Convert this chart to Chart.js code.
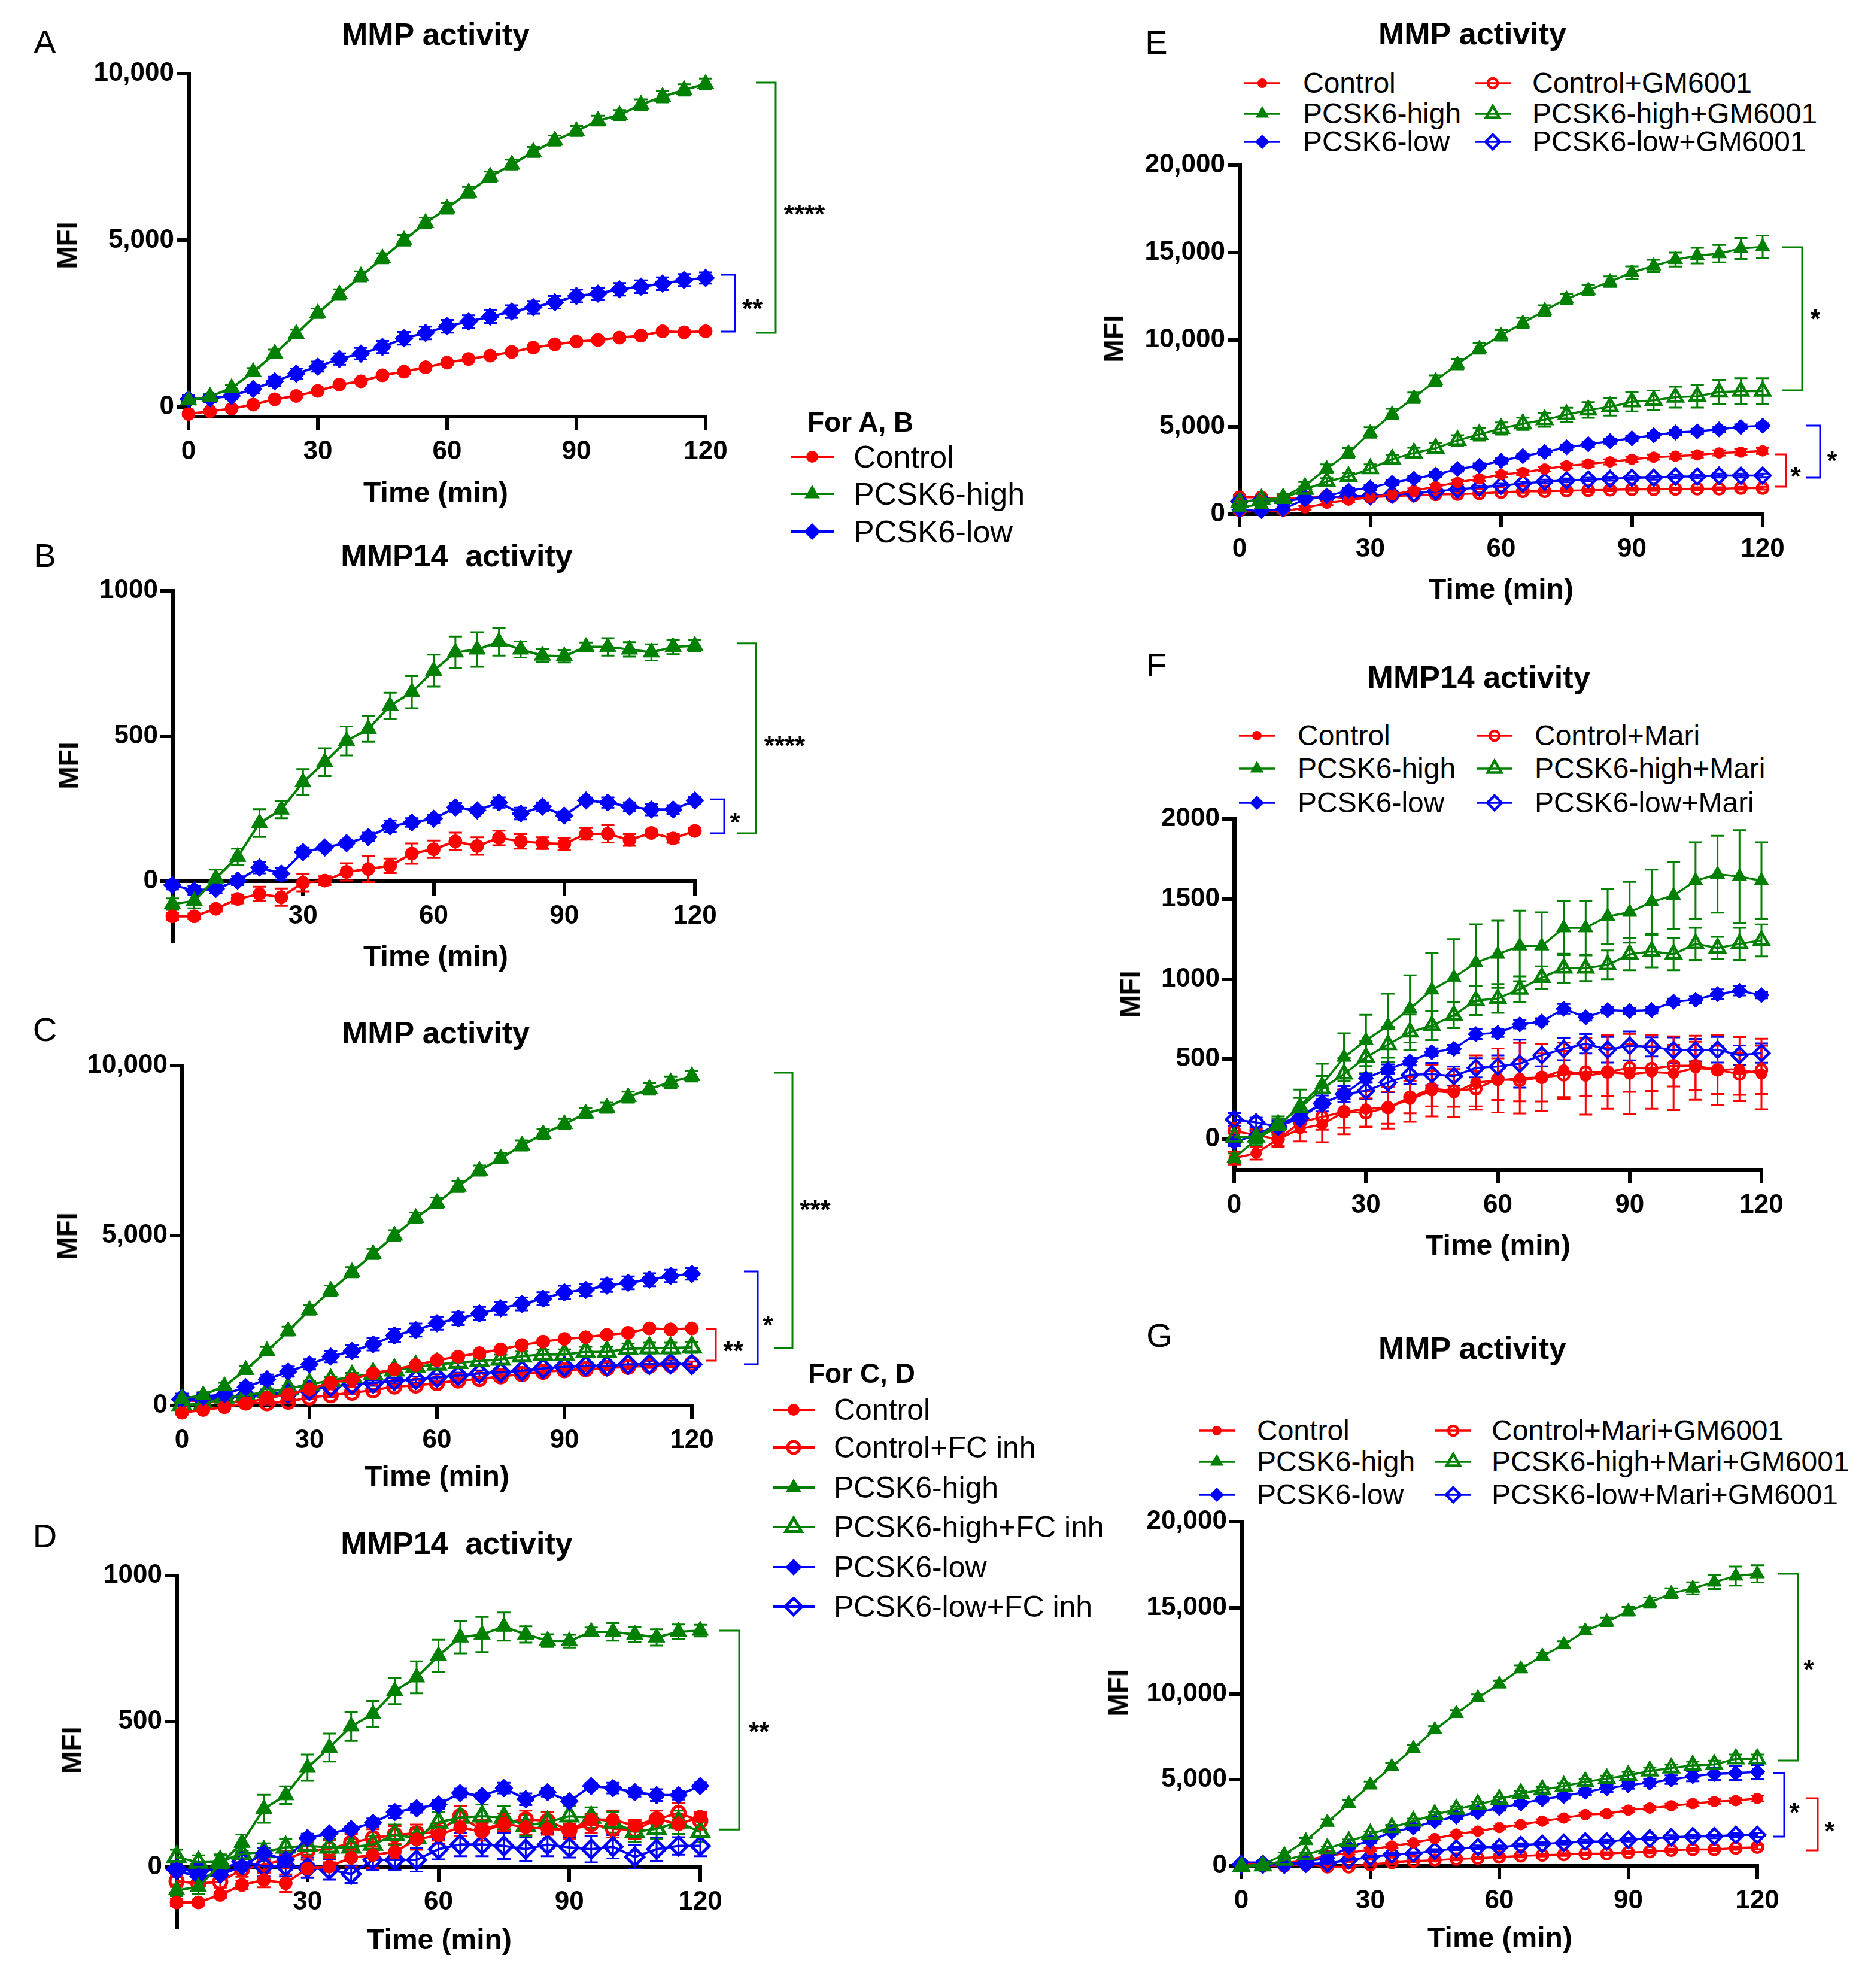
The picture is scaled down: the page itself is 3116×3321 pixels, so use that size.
<!DOCTYPE html>
<html>
<head>
<meta charset="utf-8">
<script src="https://cdn.jsdelivr.net/npm/chart.js@4.4.1/dist/chart.umd.min.js"></script>
<style>
html, body { margin: 0; padding: 0; background: #fff; }
#page { position: relative; width: 3116px; height: 3321px; overflow: hidden; font-family: 'Liberation Sans', Arial, sans-serif; color: #000; }
.txt { position: absolute; white-space: pre; line-height: 1; transform: translate(-50%, -50%); }
.letter { font-size: 56px; }
.title { font-size: 52px; font-weight: bold; }
.axis { font-size: 48px; font-weight: bold; }
.mfi { font-size: 46px; font-weight: bold; transform: translate(-50%, -50%) rotate(-90deg); }
.legtitle { position: absolute; font-size: 46px; font-weight: bold; line-height: 1; transform: translateY(-50%); white-space: nowrap; }
.leg { position: absolute; display: flex; align-items: center; white-space: nowrap; line-height: 1; transform: translateY(-50%); }
canvas { position: absolute; }
</style>
</head>
<body>
<div id="page"></div>
<script>
const RED = '#ff0000', GREEN = '#008000', BLUE = '#0000ff';

const minutes = [0, 5, 10, 15, 20, 25, 30, 35, 40, 45, 50, 55, 60, 65, 70, 75, 80, 85, 90, 95, 100, 105, 110, 115, 120];
const timeTicks = [0, 30, 60, 90, 120];
const timeTicksNoZero = [30, 60, 90, 120];
const ticksMmp = [0, 5000, 10000];
const ticksMmp14 = [0, 500, 1000];
const ticksBig = [0, 5000, 10000, 15000, 20000];
const ticksMari = [0, 500, 1000, 1500, 2000];

// MMP activity (A, C)
const mmpControl = [-210, -130, -50, 70, 230, 330, 480, 670, 770, 950, 1060, 1190, 1330, 1440, 1540, 1650, 1780, 1880, 1960, 2010, 2080, 2140, 2270, 2240, 2270];
const mmpControlSem = [50, 40, 40, 40, 40, 40, 50, 50, 50, 60, 60, 60, 60, 60, 60, 60, 60, 60, 60, 60, 60, 60, 60, 60, 60];
const mmpHigh = [200, 310, 570, 1050, 1600, 2190, 2810, 3380, 3920, 4460, 5000, 5520, 5960, 6440, 6910, 7270, 7650, 7990, 8280, 8590, 8760, 9070, 9310, 9510, 9690];
const mmpHighSem = [60, 80, 100, 120, 120, 130, 140, 150, 150, 150, 160, 160, 160, 160, 150, 150, 150, 150, 150, 150, 150, 160, 170, 170, 160];
const mmpLow = [230, 260, 330, 540, 770, 1000, 1210, 1440, 1600, 1800, 2060, 2220, 2420, 2560, 2710, 2860, 2990, 3140, 3330, 3400, 3530, 3610, 3700, 3810, 3870];
const mmpLowSem = [120, 110, 110, 130, 140, 150, 150, 170, 170, 180, 190, 190, 190, 190, 190, 190, 190, 190, 190, 180, 190, 190, 190, 180, 170];
const mmpControlFc = [150, 130, 120, 90, 70, 115, 240, 305, 380, 450, 560, 590, 660, 735, 780, 860, 925, 990, 1040, 1070, 1100, 1140, 1165, 1195, 1230];
const mmpControlFcSem = [40, 40, 40, 40, 40, 40, 50, 50, 50, 50, 50, 50, 50, 60, 60, 60, 60, 60, 60, 60, 60, 60, 60, 60, 60];
const mmpHighFc = [20, 50, 240, 305, 400, 500, 620, 735, 850, 925, 1040, 1140, 1210, 1260, 1310, 1355, 1450, 1500, 1500, 1575, 1575, 1670, 1690, 1690, 1710];
const mmpHighFcSem = [50, 50, 60, 80, 80, 90, 100, 100, 110, 110, 110, 120, 120, 120, 130, 140, 140, 140, 150, 150, 150, 150, 160, 160, 160];
const mmpLowFc = [180, 180, 240, 280, 335, 370, 450, 560, 620, 660, 735, 765, 830, 880, 945, 975, 1020, 1090, 1140, 1165, 1165, 1210, 1210, 1230, 1210];
const mmpLowFcSem = [60, 60, 60, 70, 70, 70, 80, 80, 80, 80, 80, 90, 90, 90, 90, 90, 90, 90, 90, 90, 90, 90, 90, 90, 90];

// MMP14 activity (B, D)
const mmp14Control = [-121, -121, -95, -61, -44, -55, -5, 2, 32, 42, 53, 95, 110, 137, 121, 149, 137, 131, 128, 163, 163, 142, 166, 147, 173];
const mmp14ControlSem = [12, 10, 10, 15, 25, 30, 30, 15, 30, 45, 25, 35, 30, 30, 30, 25, 25, 20, 20, 20, 30, 20, 10, 15, 10];
const mmp14High = [-79, -68, 10, 84, 200, 247, 341, 410, 483, 525, 604, 651, 725, 788, 798, 825, 798, 777, 775, 807, 807, 798, 788, 807, 811];
const mmp14HighSem = [20, 25, 30, 28, 48, 30, 45, 48, 50, 45, 45, 55, 55, 55, 60, 48, 28, 22, 22, 15, 30, 25, 28, 25, 20];
const mmp14Low = [-13, -32, -26, 2, 47, 26, 100, 116, 131, 152, 189, 202, 215, 254, 244, 271, 233, 257, 226, 278, 271, 257, 247, 247, 278];
const mmp14LowSem = [15, 15, 15, 15, 20, 20, 15, 10, 12, 15, 20, 15, 15, 15, 10, 18, 20, 15, 15, 10, 18, 15, 20, 15, 12];
const mmp14ControlFc = [-48, -56, -50, -8, 9, 25, 57, 62, 84, 100, 111, 116, 121, 175, 127, 154, 164, 159, 127, 148, 132, 127, 164, 186, 159];
const mmp14ControlFcSem = [20, 20, 20, 25, 25, 30, 30, 30, 30, 30, 30, 30, 30, 35, 35, 30, 30, 30, 30, 30, 30, 30, 30, 35, 30];
const mmp14HighFc = [35, 16, 19, 46, 52, 68, 73, 68, 68, 78, 111, 100, 154, 170, 175, 170, 143, 154, 175, 170, 154, 121, 132, 154, 121];
const mmp14HighFcSem = [25, 25, 25, 30, 30, 30, 30, 30, 30, 30, 35, 35, 35, 40, 40, 40, 35, 35, 35, 35, 35, 35, 35, 40, 35];
const mmp14LowFc = [-8, -13, -8, 19, 3, 3, -2, -8, -24, 25, 25, 25, 62, 78, 78, 73, 62, 78, 68, 62, 70, 35, 62, 73, 73];
const mmp14LowFcSem = [25, 25, 30, 30, 35, 35, 35, 35, 30, 35, 35, 40, 35, 40, 40, 45, 40, 40, 35, 45, 40, 40, 40, 30, 35];

// MMP activity with GM6001 (E)
const gmControl = [140, 180, 180, 360, 630, 810, 970, 1130, 1350, 1580, 1820, 2030, 2270, 2390, 2590, 2770, 2880, 3000, 3150, 3270, 3330, 3400, 3510, 3560, 3630];
const gmControlSem = [100, 100, 100, 110, 110, 120, 120, 120, 130, 130, 130, 130, 140, 140, 140, 140, 140, 150, 150, 150, 150, 150, 150, 160, 170];
const gmHigh = [400, 560, 970, 1640, 2610, 3510, 4680, 5740, 6670, 7660, 8600, 9500, 10250, 10950, 11670, 12340, 12840, 13330, 13850, 14230, 14590, 14820, 14930, 15230, 15320];
const gmHighSem = [150, 150, 180, 200, 250, 280, 300, 300, 300, 300, 300, 300, 300, 300, 300, 300, 300, 300, 350, 350, 400, 450, 500, 600, 650];
const gmLow = [250, 180, 290, 860, 1040, 1350, 1530, 1800, 2030, 2270, 2590, 2770, 3060, 3330, 3560, 3830, 4010, 4190, 4350, 4530, 4680, 4750, 4860, 5000, 5070];
const gmLowSem = [120, 120, 120, 130, 130, 140, 140, 140, 150, 150, 150, 150, 150, 150, 150, 150, 150, 150, 150, 150, 150, 150, 150, 150, 150];
const gmControlGm = [970, 970, 860, 970, 1040, 900, 970, 1040, 1080, 1130, 1150, 1190, 1260, 1310, 1310, 1350, 1370, 1400, 1420, 1420, 1440, 1460, 1460, 1490, 1490];
const gmControlGmSem = [100, 100, 90, 90, 90, 90, 80, 80, 80, 80, 80, 80, 80, 80, 80, 80, 80, 80, 80, 80, 80, 80, 80, 80, 80];
const gmHighGm = [680, 860, 900, 1420, 1870, 2160, 2610, 3150, 3510, 3780, 4230, 4570, 4910, 5180, 5410, 5700, 5970, 6150, 6440, 6530, 6710, 6760, 7000, 7050, 7050];
const gmHighGmSem = [150, 150, 150, 150, 200, 200, 250, 250, 300, 300, 300, 350, 350, 350, 400, 400, 450, 500, 550, 550, 600, 650, 700, 750, 750];
const gmLowGm = [740, 810, 740, 900, 970, 1040, 1040, 1130, 1190, 1310, 1420, 1530, 1640, 1760, 1870, 1940, 1980, 2030, 2090, 2090, 2160, 2160, 2210, 2210, 2210];
const gmLowGmSem = [100, 100, 100, 100, 100, 100, 100, 100, 100, 100, 100, 110, 110, 110, 110, 110, 110, 110, 110, 110, 110, 110, 110, 110, 110];

// MMP14 activity with Mari (F)
const mariControl = [-118, -87, 0, 66, 92, 171, 189, 197, 249, 302, 289, 354, 367, 381, 386, 433, 394, 420, 407, 420, 412, 446, 433, 438, 407];
const mariControlSem = [40, 40, 50, 80, 110, 140, 110, 130, 140, 160, 150, 170, 200, 220, 210, 170, 240, 230, 250, 230, 230, 200, 220, 200, 220];
const mariHigh = [-118, 0, 79, 210, 341, 512, 617, 709, 814, 932, 1010, 1102, 1155, 1207, 1207, 1320, 1320, 1391, 1417, 1483, 1522, 1614, 1654, 1640, 1614];
const mariHighSem = [30, 40, 50, 100, 130, 150, 160, 200, 210, 230, 240, 240, 210, 220, 210, 170, 170, 170, 190, 200, 210, 240, 240, 290, 240];
const mariLow = [-18, 26, 92, 144, 223, 281, 381, 438, 486, 543, 564, 656, 664, 717, 735, 814, 761, 806, 801, 806, 858, 871, 906, 927, 900];
const mariLowSem = [25, 25, 25, 25, 25, 30, 25, 30, 25, 25, 25, 30, 25, 25, 20, 30, 20, 20, 20, 20, 20, 20, 30, 30, 20];
const mariControlMari = [52, 26, 0, 105, 139, 171, 165, 197, 262, 315, 302, 315, 375, 367, 386, 402, 420, 420, 446, 441, 459, 459, 433, 407, 433];
const mariControlMariSem = [50, 40, 40, 60, 80, 100, 90, 100, 100, 110, 100, 110, 130, 130, 150, 150, 150, 150, 150, 140, 130, 150, 150, 130, 150];
const mariHighMari = [13, 13, 92, 197, 315, 407, 512, 591, 669, 709, 774, 866, 879, 937, 1010, 1068, 1068, 1089, 1155, 1173, 1155, 1220, 1194, 1220, 1241];
const mariHighMariSem = [40, 40, 50, 60, 80, 100, 100, 110, 110, 90, 80, 90, 90, 80, 70, 90, 80, 90, 100, 100, 100, 100, 70, 100, 100];
const mariLowMari = [123, 105, 79, 131, 223, 281, 302, 354, 402, 407, 394, 446, 454, 472, 525, 564, 596, 559, 583, 577, 556, 556, 559, 525, 538];
const mariLowMariSem = [40, 30, 30, 40, 50, 50, 50, 60, 60, 70, 60, 60, 70, 150, 70, 70, 60, 80, 90, 60, 80, 70, 80, 60, 60];

// MMP activity with Mari+GM6001 (G)
const mgControl = [80, 80, 150, 330, 580, 760, 960, 1160, 1340, 1590, 1850, 2020, 2230, 2400, 2600, 2780, 2980, 3030, 3240, 3360, 3490, 3620, 3740, 3790, 3920];
const mgControlSem = [80, 80, 80, 90, 90, 100, 100, 100, 100, 100, 100, 100, 100, 110, 110, 110, 110, 110, 120, 120, 120, 130, 130, 150, 170];
const mgHigh = [0, 80, 660, 1470, 2530, 3620, 4700, 5770, 6830, 7910, 8850, 9760, 10570, 11450, 12190, 12850, 13650, 14180, 14790, 15300, 15830, 16130, 16490, 16840, 16970];
const mgHighSem = [100, 100, 120, 150, 180, 200, 200, 200, 200, 200, 200, 200, 200, 200, 200, 200, 200, 250, 250, 300, 300, 350, 400, 550, 500];
const mgLow = [200, 200, 80, 250, 450, 1090, 1470, 1970, 2230, 2600, 2860, 3110, 3360, 3620, 3870, 4050, 4300, 4500, 4680, 4830, 5010, 5210, 5340, 5390, 5460];
const mgLowSem = [100, 100, 100, 100, 120, 120, 150, 150, 150, 150, 150, 150, 150, 150, 150, 150, 180, 200, 200, 220, 250, 300, 350, 400, 400];
const mgControlMg = [80, 0, 0, 80, -50, -50, 80, 200, 280, 330, 400, 450, 510, 580, 630, 660, 710, 710, 780, 830, 910, 960, 960, 1040, 1090];
const mgControlMgSem = [80, 80, 80, 80, 80, 80, 80, 80, 80, 80, 80, 80, 80, 80, 80, 80, 80, 90, 90, 90, 90, 90, 100, 100, 120];
const mgHighMg = [-50, 0, 330, 660, 1010, 1420, 1850, 2230, 2600, 2980, 3290, 3570, 3870, 4200, 4420, 4630, 4880, 5060, 5260, 5510, 5690, 5840, 5890, 6220, 6220];
const mgHighMgSem = [100, 100, 100, 100, 120, 120, 150, 150, 150, 150, 150, 150, 150, 150, 150, 180, 180, 180, 200, 200, 200, 220, 220, 250, 250];
const mgLowMg = [80, 80, 80, 130, 150, 330, 510, 660, 710, 880, 1010, 1090, 1090, 1210, 1290, 1340, 1420, 1420, 1520, 1590, 1670, 1720, 1720, 1800, 1800];
const mgLowMgSem = [80, 80, 80, 80, 80, 80, 80, 90, 90, 90, 90, 100, 100, 100, 100, 100, 100, 100, 100, 100, 110, 110, 110, 110, 110];

const page = document.getElementById('page');
Chart.defaults.font.family = "'Liberation Sans', Arial, sans-serif";

function ser(values, sem, color, shape, open) {
    return { values, sem, color, shape, open };
}

const bigMarks = { circle: 11, triangle: 16, rectRot: 15, open: 5, line: 4 };
const smallMarks = { circle: 9, triangle: 14, rectRot: 13, open: 4.5, line: 3.5 };

const panels = [
    {
        area: { l: 315, t: 123, r: 1179, b: 696 }, yMin: -290, yMax: 10000, yTicks: ticksMmp, xTicks: timeTicks,
        xAtZero: false, comma: true, marks: bigMarks,
        series: [
            ser(mmpHigh, mmpHighSem, GREEN, 'triangle', false),
            ser(mmpLow, mmpLowSem, BLUE, 'rectRot', false),
            ser(mmpControl, mmpControlSem, RED, 'circle', false)
        ],
        brackets: [
            { color: GREEN, x: 1296, left: 1263, y1: 9730, y2: 2226, label: '****', lx: 1344, ly: 5978 },
            { color: BLUE, x: 1228, left: 1205, y1: 3968, y2: 2262, label: '**', lx: 1257, ly: 3142 }
        ]
    },
    {
        area: { l: 288, t: 987, r: 1161, b: 1572 }, yMin: -206, yMax: 1000, yTicks: ticksMmp14, xTicks: timeTicksNoZero,
        xAtZero: true, comma: false, marks: bigMarks,
        series: [
            ser(mmp14High, mmp14HighSem, GREEN, 'triangle', false),
            ser(mmp14Low, mmp14LowSem, BLUE, 'rectRot', false),
            ser(mmp14Control, mmp14ControlSem, RED, 'circle', false)
        ],
        brackets: [
            { color: GREEN, x: 1263, left: 1232, y1: 819, y2: 165, label: '****', lx: 1311, ly: 489 },
            { color: BLUE, x: 1210, left: 1186, y1: 282, y2: 165, label: '*', lx: 1228, ly: 225 }
        ]
    },
    {
        area: { l: 304, t: 1780, r: 1156, b: 2348 }, yMin: 0, yMax: 10000, yTicks: ticksMmp, xTicks: timeTicks,
        xAtZero: false, comma: true, marks: bigMarks,
        series: [
            ser(mmpHigh, mmpHighSem, GREEN, 'triangle', false),
            ser(mmpLow, mmpLowSem, BLUE, 'rectRot', false),
            ser(mmpControl, mmpControlSem, RED, 'circle', false),
            ser(mmpHighFc, mmpHighFcSem, GREEN, 'triangle', true),
            ser(mmpLowFc, mmpLowFcSem, BLUE, 'rectRot', true),
            ser(mmpControlFc, mmpControlFcSem, RED, 'circle', true)
        ],
        brackets: [
            { color: GREEN, x: 1324, left: 1293, y1: 9789, y2: 1690, label: '***', lx: 1362, ly: 5951 },
            { color: BLUE, x: 1266, left: 1243, y1: 3944, y2: 1215, label: '*', lx: 1283, ly: 2553 },
            { color: RED, x: 1196, left: 1180, y1: 2254, y2: 1320, label: '**', lx: 1225, ly: 1796 }
        ]
    },
    {
        area: { l: 295, t: 2632, r: 1170, b: 3220 }, yMin: -207, yMax: 1000, yTicks: ticksMmp14, xTicks: timeTicksNoZero,
        xAtZero: true, comma: false, marks: bigMarks,
        series: [
            ser(mmp14High, mmp14HighSem, GREEN, 'triangle', false),
            ser(mmp14Low, mmp14LowSem, BLUE, 'rectRot', false),
            ser(mmp14Control, mmp14ControlSem, RED, 'circle', false),
            ser(mmp14HighFc, mmp14HighFcSem, GREEN, 'triangle', true),
            ser(mmp14LowFc, mmp14LowFcSem, BLUE, 'rectRot', true),
            ser(mmp14ControlFc, mmp14ControlFcSem, RED, 'circle', true)
        ],
        brackets: [
            { color: GREEN, x: 1235, left: 1201, y1: 811, y2: 129, label: '**', lx: 1268, ly: 487 }
        ]
    },
    {
        area: { l: 2071, t: 276, r: 2945, b: 859 }, yMin: 0, yMax: 20000, yTicks: ticksBig, xTicks: timeTicks,
        xAtZero: false, comma: true, marks: smallMarks,
        series: [
            ser(gmHigh, gmHighSem, GREEN, 'triangle', false),
            ser(gmHighGm, gmHighGmSem, GREEN, 'triangle', true),
            ser(gmLow, gmLowSem, BLUE, 'rectRot', false),
            ser(gmControl, gmControlSem, RED, 'circle', false),
            ser(gmLowGm, gmLowGmSem, BLUE, 'rectRot', true),
            ser(gmControlGm, gmControlGmSem, RED, 'circle', true)
        ],
        brackets: [
            { color: GREEN, x: 3011, left: 2978, y1: 15300, y2: 7101, label: '*', lx: 3033, ly: 11561 },
            { color: BLUE, x: 3041, left: 3017, y1: 5077, y2: 2093, label: '*', lx: 3061, ly: 3431 },
            { color: RED, x: 2984, left: 2965, y1: 3431, y2: 1578, label: '*', lx: 3000, ly: 2539 }
        ]
    },
    {
        area: { l: 2062, t: 1368, r: 2943, b: 1955 }, yMin: -194, yMax: 2000, yTicks: ticksMari, xTicks: timeTicks,
        xAtZero: false, comma: false, marks: smallMarks,
        series: [
            ser(mariHigh, mariHighSem, GREEN, 'triangle', false),
            ser(mariHighMari, mariHighMariSem, GREEN, 'triangle', true),
            ser(mariLow, mariLowSem, BLUE, 'rectRot', false),
            ser(mariLowMari, mariLowMariSem, BLUE, 'rectRot', true),
            ser(mariControl, mariControlSem, RED, 'circle', false),
            ser(mariControlMari, mariControlMariSem, RED, 'circle', true)
        ],
        brackets: []
    },
    {
        area: { l: 2074, t: 2542, r: 2936, b: 3117 }, yMin: 0, yMax: 20000, yTicks: ticksBig, xTicks: timeTicks,
        xAtZero: false, comma: true, marks: smallMarks,
        series: [
            ser(mgHigh, mgHighSem, GREEN, 'triangle', false),
            ser(mgHighMg, mgHighMgSem, GREEN, 'triangle', true),
            ser(mgLow, mgLowSem, BLUE, 'rectRot', false),
            ser(mgControl, mgControlSem, RED, 'circle', false),
            ser(mgLowMg, mgLowMgSem, BLUE, 'rectRot', true),
            ser(mgControlMg, mgControlMgSem, RED, 'circle', true)
        ],
        brackets: [
            { color: GREEN, x: 3004, left: 2970, y1: 16974, y2: 6122, label: '*', lx: 3022, ly: 11791 },
            { color: BLUE, x: 2981, left: 2963, y1: 5391, y2: 1704, label: '*', lx: 2998, ly: 3478 },
            { color: RED, x: 3037, left: 3017, y1: 3930, y2: 904, label: '*', lx: 3057, ly: 2400 }
        ]
    }
];

const errorBars = {
    id: 'errorBars',
    beforeDatasetsDraw(chart) {
        const ctx = chart.ctx;
        const ys = chart.scales.y;
        chart.data.datasets.forEach((ds, i) => {
            const meta = chart.getDatasetMeta(i);
            ctx.save();
            ctx.strokeStyle = ds.borderColor;
            ctx.lineWidth = 3;
            meta.data.forEach((pt, j) => {
                const v = ds.data[j].y, e = ds.sem[j];
                const top = ys.getPixelForValue(v + e), bot = ys.getPixelForValue(v - e);
                ctx.beginPath();
                ctx.moveTo(pt.x, top); ctx.lineTo(pt.x, bot);
                ctx.moveTo(pt.x - 11, top); ctx.lineTo(pt.x + 11, top);
                ctx.moveTo(pt.x - 11, bot); ctx.lineTo(pt.x + 11, bot);
                ctx.stroke();
            });
            ctx.restore();
        });
    }
};

function makePanel(p) {
    const padL = 240, padT = 50, padR = 270, padB = 130;
    const w = p.area.r - p.area.l + padL + padR;
    const h = p.area.b - p.area.t + padT + padB;
    const offX = p.area.l - padL, offY = p.area.t - padT;
    const cv = document.createElement('canvas');
    cv.width = w; cv.height = h;
    cv.style.left = offX + 'px';
    cv.style.top = offY + 'px';
    page.appendChild(cv);

    const bracketPlugin = {
        id: 'brackets',
        afterDraw(chart) {
            const ctx = chart.ctx, ys = chart.scales.y;
            p.brackets.forEach(b => {
                const x = b.x - offX, l = b.left - offX;
                const y1 = ys.getPixelForValue(b.y1), y2 = ys.getPixelForValue(b.y2);
                ctx.save();
                ctx.strokeStyle = b.color;
                ctx.lineWidth = 3;
                ctx.beginPath();
                ctx.moveTo(l, y1); ctx.lineTo(x, y1); ctx.lineTo(x, y2); ctx.lineTo(l, y2);
                ctx.stroke();
                ctx.fillStyle = '#000';
                ctx.font = "bold 44px 'Liberation Sans', Arial, sans-serif";
                ctx.textAlign = 'center';
                ctx.textBaseline = 'alphabetic';
                ctx.fillText(b.label, b.lx - offX, ys.getPixelForValue(b.ly) + 26);
                ctx.restore();
            });
        }
    };

    const fmt = v => p.comma ? Number(v).toLocaleString('en-US') : String(v);

    new Chart(cv, {
        type: 'line',
        data: {
            datasets: p.series.map(s => ({
                data: minutes.map((m, i) => ({ x: m, y: s.values[i] })),
                sem: s.sem,
                borderColor: s.color,
                backgroundColor: s.color,
                borderWidth: p.marks.line,
                pointStyle: s.shape,
                pointRadius: p.marks[s.shape],
                pointBackgroundColor: s.open ? 'rgba(255,255,255,0)' : s.color,
                pointBorderColor: s.color,
                pointBorderWidth: s.open ? p.marks.open : 1,
                tension: 0,
                fill: false,
                clip: false
            }))
        },
        options: {
            responsive: false,
            animation: false,
            devicePixelRatio: 1,
            layout: { padding: { left: 0, top: padT, right: padR, bottom: p.xAtZero ? padB : 20 } },
            plugins: { legend: { display: false }, tooltip: { enabled: false } },
            scales: {
                x: {
                    type: 'linear', min: 0, max: 120,
                    position: p.xAtZero ? { y: 0 } : 'bottom',
                    afterBuildTicks: s => { s.ticks = p.xTicks.map(v => ({ value: v })); },
                    afterFit: s => { if (!p.xAtZero) s.height = padB - 20; },
                    grid: { display: true, drawOnChartArea: false, drawTicks: true, tickLength: 22, lineWidth: 6, tickWidth: 6, color: '#000', tickColor: '#000' },
                    border: { display: true, color: '#000', width: 6 },
                    ticks: { color: '#000', font: { size: 44, weight: 'bold' }, padding: 10, maxRotation: 0, autoSkip: false }
                },
                y: {
                    type: 'linear', min: p.yMin, max: p.yMax,
                    afterBuildTicks: s => { s.ticks = p.yTicks.map(v => ({ value: v })); },
                    afterFit: s => { s.width = padL; },
                    grid: { display: true, drawOnChartArea: false, drawTicks: true, tickLength: 20, lineWidth: 6, tickWidth: 6, color: '#000', tickColor: '#000' },
                    border: { display: true, color: '#000', width: 7 },
                    ticks: { color: '#000', font: { size: 44, weight: 'bold' }, padding: 4, autoSkip: false, callback: fmt }
                }
            }
        },
        plugins: [errorBars, bracketPlugin]
    });
}

panels.forEach(makePanel);

function addText(cls, text, x, y) {
    const d = document.createElement('div');
    d.className = 'txt ' + cls;
    d.textContent = text;
    d.style.left = x + 'px';
    d.style.top = y + 'px';
    page.appendChild(d);
}

// panel letters
[['A', 75, 70], ['B', 75, 928], ['C', 75, 1720], ['D', 75, 2566], ['E', 1932, 71], ['F', 1932, 1111], ['G', 1937, 2231]]
    .forEach(t => addText('letter', t[0], t[1], t[2]));

// titles
[['MMP activity', 728, 57], ['MMP14  activity', 763, 928], ['MMP activity', 728, 1725], ['MMP14  activity', 763, 2578],
 ['MMP activity', 2460, 56], ['MMP14 activity', 2471, 1131], ['MMP activity', 2460, 2252]]
    .forEach(t => addText('title', t[0], t[1], t[2]));

// x axis titles
[[728, 823], [728, 1597], [730, 2466], [734, 3240], [2508, 984], [2503, 2080], [2506, 3237]]
    .forEach(t => addText('axis', 'Time (min)', t[0], t[1]));

// y axis titles
[[112, 410], [114, 1279], [112, 2065], [120, 2924], [1861, 566], [1888, 1661], [1868, 2828]]
    .forEach(t => addText('mfi', 'MFI', t[0], t[1]));

function drawMarker(ctx, shape, x, y, r, color, open, bw) {
    ctx.beginPath();
    if (shape === 'circle') {
        ctx.arc(x, y, r, 0, Math.PI * 2);
    } else if (shape === 'triangle') {
        ctx.moveTo(x, y - r);
        ctx.lineTo(x + r * 0.866, y + r * 0.5);
        ctx.lineTo(x - r * 0.866, y + r * 0.5);
        ctx.closePath();
    } else {
        ctx.moveTo(x, y - r); ctx.lineTo(x + r, y); ctx.lineTo(x, y + r); ctx.lineTo(x - r, y);
        ctx.closePath();
    }
    if (open) {
        ctx.lineWidth = bw; ctx.strokeStyle = color; ctx.stroke();
    } else {
        ctx.fillStyle = color; ctx.fill();
    }
}

function legendItem(x, y, lineW, gap, size, marks, style, label) {
    const row = document.createElement('div');
    row.className = 'leg';
    row.style.left = x + 'px';
    row.style.top = y + 'px';
    row.style.fontSize = size + 'px';
    const c = document.createElement('canvas');
    c.width = lineW; c.height = 40;
    c.style.position = 'static';
    const ctx = c.getContext('2d');
    ctx.strokeStyle = style.color;
    ctx.lineWidth = marks.line;
    ctx.beginPath(); ctx.moveTo(0, 20); ctx.lineTo(lineW, 20); ctx.stroke();
    drawMarker(ctx, style.shape, lineW / 2, 20, marks[style.shape] - 1, style.color, style.open, marks.open);
    const span = document.createElement('span');
    span.textContent = label;
    span.style.marginLeft = gap + 'px';
    row.appendChild(c);
    row.appendChild(span);
    page.appendChild(row);
}

function legendTitle(text, x, y) {
    const d = document.createElement('div');
    d.className = 'legtitle';
    d.textContent = text;
    d.style.left = x + 'px';
    d.style.top = y + 'px';
    page.appendChild(d);
}

const stControl = { color: RED, shape: 'circle', open: false };
const stHigh = { color: GREEN, shape: 'triangle', open: false };
const stLow = { color: BLUE, shape: 'rectRot', open: false };
const stControlOpen = { color: RED, shape: 'circle', open: true };
const stHighOpen = { color: GREEN, shape: 'triangle', open: true };
const stLowOpen = { color: BLUE, shape: 'rectRot', open: true };

// legend for A, B
legendTitle('For A, B', 1349, 705);
legendItem(1321, 763, 72, 33, 52, bigMarks, stControl, 'Control');
legendItem(1321, 825, 72, 33, 52, bigMarks, stHigh, 'PCSK6-high');
legendItem(1321, 888, 72, 33, 52, bigMarks, stLow, 'PCSK6-low');

// legend for C, D
legendTitle('For C, D', 1350, 2294);
[[stControl, 'Control', 2355], [stControlOpen, 'Control+FC inh', 2418], [stHigh, 'PCSK6-high', 2485],
 [stHighOpen, 'PCSK6-high+FC inh', 2551], [stLow, 'PCSK6-low', 2618], [stLowOpen, 'PCSK6-low+FC inh', 2684]]
    .forEach(r => legendItem(1291, r[2], 70, 32, 50, bigMarks, r[0], r[1]));

// legends for E, F, G (two columns)
function twoColLegend(rows, x1, t1, x2, t2, suffix) {
    const left = [[stControl, 'Control'], [stHigh, 'PCSK6-high'], [stLow, 'PCSK6-low']];
    const right = [[stControlOpen, 'Control' + suffix], [stHighOpen, 'PCSK6-high' + suffix], [stLowOpen, 'PCSK6-low' + suffix]];
    rows.forEach((y, i) => {
        legendItem(x1, y, 60, t1 - x1 - 60, 48, smallMarks, left[i][0], left[i][1]);
        legendItem(x2, y, 60, t2 - x2 - 60, 48, smallMarks, right[i][0], right[i][1]);
    });
}
twoColLegend([139, 190, 237], 2079, 2177, 2464, 2560, '+GM6001');
twoColLegend([1229, 1284, 1341], 2070, 2168, 2467, 2564, '+Mari');
twoColLegend([2390, 2442, 2497], 2003, 2100, 2398, 2492, '+Mari+GM6001');
</script>
</body>
</html>
